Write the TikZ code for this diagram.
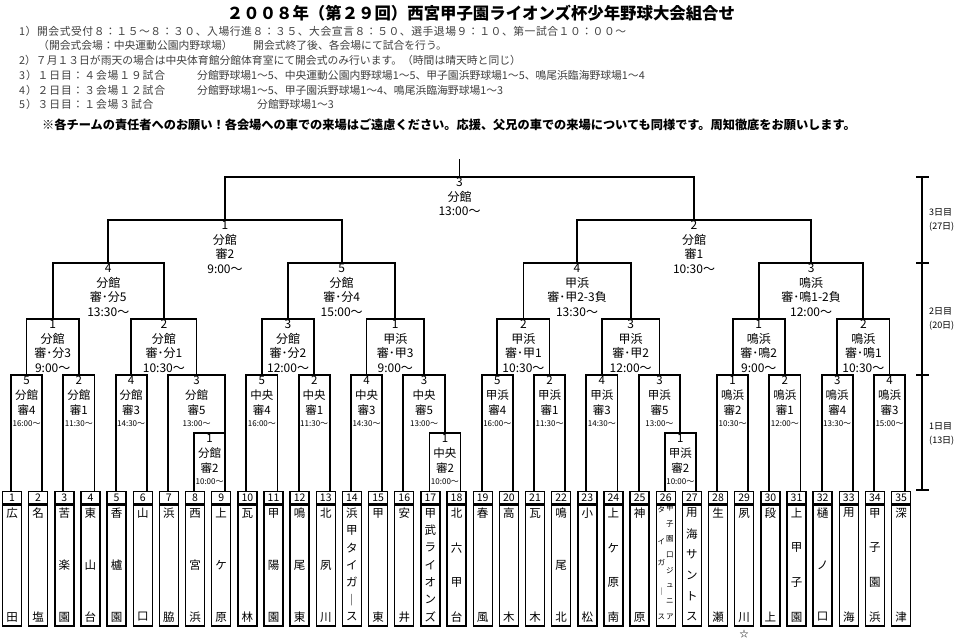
\documentclass[tikz,border=0pt]{standalone}
\usepackage{fontspec}
\setmainfont{Noto Sans CJK JP}
\usetikzlibrary{calc}
\newcommand{\tm}[1]{{\fontsize{8}{8}\selectfont #1}}
% style, name, left leg, right leg, level, label
\newcommand{\game}[6]{%
  \coordinate (gm) at ($(#3)!.5!(#4)$);
  \coordinate (lv) at (0,#5);
  \coordinate (#2) at (gm |- lv);
  \draw[br] (#3) |- (#2) -| (#4);
  \node[#1] (#2-l) at (#2) {#6};
}

\begin{document}
\begin{tikzpicture}[
  x=1pt, y=-1pt,
  br/.style={line width=1.8pt},
  lbl/.style={anchor=north, align=center, inner sep=0pt, yshift=-1pt,
              font=\fontsize{12}{14.5}\selectfont},
  lbla/.style={lbl, font=\fontsize{11.5}{15}\selectfont},
  numbox/.style={draw, line width=1.4pt, anchor=north, minimum width=19pt,
                 minimum height=12pt, inner sep=0pt, font=\fontsize{10.5}{12}\selectfont},
  namebox/.style={draw, line width=1.4pt, anchor=north, minimum width=19pt,
                  minimum height=121pt, inner sep=0pt},
  ch/.style={inner sep=0pt, font=\fontsize{11.5}{12}\selectfont},
  chs/.style={inner sep=0pt, font=\fontsize{7.5}{8}\selectfont},
  note/.style={anchor=west, inner sep=0pt, text=black!75, font=\fontsize{10.8}{12}\selectfont},
  day/.style={anchor=west, align=left, inner sep=0pt, font=\fontsize{9}{14}\selectfont},
  tl/.style={line width=1.5pt}
]
\fill[white] (0,0) rectangle (960,639);
\useasboundingbox (0,0) rectangle (960,639);

% ---------- heading and notes ----------
\node[font=\bfseries\fontsize{16.4}{18}\selectfont] (title) at (481,13)
  {２００８年（第２９回）西宮甲子園ライオンズ杯少年野球大会組合せ};
\node[note] (nt1) at (19,31) {\addfontfeature{LetterSpace=5}1）開会式受付８：１５～８：３０、入場行進８：３５、大会宣言８：５０、選手退場９：１０、第一試合１０：００～};
\node[note] (nt2a) at (38,45) {（開会式会場：中央運動公園内野球場）};
\node[note] (nt2b) at (253,45) {開会式終了後、各会場にて試合を行う。};
\node[note] (nt3) at (19,60) {2）７月１３日が雨天の場合は中央体育館分館体育室にて開会式のみ行います。（時間は晴天時と同じ）};
\node[note] (nt4a) at (19,75) {\addfontfeature{LetterSpace=8}3）１日目：４会場１９試合};
\node[note] (nt4b) at (197,75) {分館野球場1～5、中央運動公園内野球場1～5、甲子園浜野球場1～5、鳴尾浜臨海野球場1～4};
\node[note] (nt5a) at (19,90) {\addfontfeature{LetterSpace=8}4）２日目：３会場１２試合};
\node[note] (nt5b) at (197,90) {分館野球場1～5、甲子園浜野球場1～4、鳴尾浜臨海野球場1～3};
\node[note] (nt6a) at (19,104) {\addfontfeature{LetterSpace=8}5）３日目：１会場３試合};
\node[note] (nt6b) at (257,104) {分館野球場1～3};
\node[anchor=west, inner sep=0pt, font=\bfseries\fontsize{12.2}{14}\selectfont] (warn) at (42,125)
  {※各チームの責任者へのお願い！各会場への車での来場はご遠慮ください。応援、父兄の車での来場についても同様です。周知徹底をお願いします。};

% ---------- teams ----------
\foreach \i in {1,...,35}{
  \coordinate (t\i) at ({12+(\i-1)*26.15},491);
  \coordinate (tl\i) at ($(t\i)+(-1,0)$);
  \coordinate (tr\i) at ($(t\i)+(4,0)$);
  \node[numbox] (n\i) at (t\i) {\i};
  \node[namebox] (m\i) at (n\i.south) {};
}
\foreach \i/\nm in {1/{広,田}, 2/{名,塩}, 3/{苦,楽,園}, 4/{東,山,台}, 5/{香,櫨,園},
    6/{山,口}, 7/{浜,脇}, 8/{西,宮,浜}, 9/{上,ケ,原}, 10/{瓦,林}, 11/{甲,陽,園},
    12/{鳴,尾,東}, 13/{北,夙,川}, 14/{浜,甲,タ,イ,ガ,｜,ス}, 15/{甲,東}, 16/{安,井},
    17/{甲,武,ラ,イ,オ,ン,ズ}, 18/{北,六,甲,台}, 19/{春,風}, 20/{高,木}, 21/{瓦,木},
    22/{鳴,尾,北}, 23/{小,松}, 24/{上,ケ,原,南}, 25/{神,原}, 27/{用,海,サ,ン,ト,ス},
    28/{生,瀬}, 29/{夙,川}, 30/{段,上}, 31/{上,甲,子,園}, 32/{樋,ノ,口}, 33/{用,海},
    34/{甲,子,園,浜}, 35/{深,津}}{
  \foreach \c [count=\k] in \nm {\xdef\nc{\k}}
  \foreach \c [count=\k] in \nm
    {\node[ch] (c\i-\k) at ($(t\i)+(0,{22+(\k-1)*104/(\nc-1)})$) {\c};}
}
% team 26 in two columns
\foreach \c [count=\k] in {甲,子,園,口,ジ,ュ,ニ,ア}
  {\node[chs] (c26r-\k) at ($(t26)+(4,{17+(\k-1)*15.57})$) {\c};}
\foreach \c/\yy [count=\k] in {タ/19, イ/51, ガ/72, ｜/101, ス/126}
  {\node[chs] (c26l-\k) at ($(t26)+(-4.5,\yy)$) {\c};}
\node[ch, font=\fontsize{9}{10}\selectfont] (star) at ($(m29.south)+(0,7)$) {☆};

% ---------- day 1 ----------
\game{lbla}{w89}{tl8}{tr9}{433}{1\\分館\\審2\\[-3pt]\tm{10:00～}}
\game{lbla}{w1718}{tl17}{tr18}{433}{1\\中央\\審2\\[-3pt]\tm{10:00～}}
\game{lbla}{w2627}{tl26}{tr27}{433}{1\\甲浜\\審2\\[-3pt]\tm{10:00～}}
\coordinate (w89r) at (tr9 |- w89);

\game{lbla}{w12}{tl1}{tr2}{375}{5\\分館\\審4\\[-3pt]\tm{16:00～}}
\game{lbla}{w34}{tl3}{tr4}{375}{2\\分館\\審1\\[-3pt]\tm{11:30～}}
\game{lbla}{w56}{tl5}{tr6}{375}{4\\分館\\審3\\[-3pt]\tm{14:30～}}
\game{lbla}{w7}{tl7}{w89r}{375}{3\\分館\\審5\\[-3pt]\tm{13:00～}}
\game{lbla}{w1011}{tl10}{tr11}{375}{5\\中央\\審4\\[-3pt]\tm{16:00～}}
\game{lbla}{w1213}{tl12}{tr13}{375}{2\\中央\\審1\\[-3pt]\tm{11:30～}}
\game{lbla}{w1415}{tl14}{tr15}{375}{4\\中央\\審3\\[-3pt]\tm{14:30～}}
\game{lbla}{w16}{tl16}{w1718}{375}{3\\中央\\審5\\[-3pt]\tm{13:00～}}
\game{lbla}{w1920}{tl19}{tr20}{375}{5\\甲浜\\審4\\[-3pt]\tm{16:00～}}
\game{lbla}{w2122}{tl21}{tr22}{375}{2\\甲浜\\審1\\[-3pt]\tm{11:30～}}
\game{lbla}{w2324}{tl23}{tr24}{375}{4\\甲浜\\審3\\[-3pt]\tm{14:30～}}
\game{lbla}{w25}{tl25}{w2627}{375}{3\\甲浜\\審5\\[-3pt]\tm{13:00～}}
\game{lbla}{w2829}{tl28}{tr29}{375}{1\\鳴浜\\審2\\[-3pt]\tm{10:30～}}
\game{lbla}{w3031}{tl30}{tr31}{375}{2\\鳴浜\\審1\\[-3pt]\tm{12:00～}}
\game{lbla}{w3233}{tl32}{tr33}{375}{3\\鳴浜\\審4\\[-3pt]\tm{13:30～}}
\game{lbla}{w3435}{tl34}{tr35}{375}{4\\鳴浜\\審3\\[-3pt]\tm{15:00～}}

% ---------- day 2 ----------
\game{lbl}{q1}{w12}{w34}{319}{1\\分館\\審･分3\\9:00～}
\game{lbl}{q2}{w56}{w7}{319}{2\\分館\\審･分1\\10:30～}
\game{lbl}{q3}{w1011}{w1213}{319}{3\\分館\\審･分2\\12:00～}
\game{lbl}{q4}{w1415}{w16}{319}{1\\甲浜\\審･甲3\\9:00～}
\game{lbl}{q5}{w1920}{w2122}{319}{2\\甲浜\\審･甲1\\10:30～}
\game{lbl}{q6}{w2324}{w25}{319}{3\\甲浜\\審･甲2\\12:00～}
\game{lbl}{q7}{w2829}{w3031}{319}{1\\鳴浜\\審･鳴2\\9:00～}
\game{lbl}{q8}{w3233}{w3435}{319}{2\\鳴浜\\審･鳴1\\10:30～}

\game{lbl}{s1}{q1}{q2}{263}{4\\分館\\審･分5\\13:30～}
\game{lbl}{s2}{q3}{q4}{263}{5\\分館\\審･分4\\15:00～}
\game{lbl}{s3}{q5}{q6}{263}{4\\甲浜\\審･甲2-3負\\13:30～}
\game{lbl}{s4}{q7}{q8}{263}{3\\鳴浜\\審･鳴1-2負\\12:00～}

% ---------- day 3 ----------
\game{lbl}{f1}{s1}{s2}{220}{1\\分館\\審2\\9:00～}
\game{lbl}{f2}{s3}{s4}{220}{2\\分館\\審1\\10:30～}
\game{lbl}{fin}{f1}{f2}{177}{3\\分館\\13:00～}
\coordinate (topy) at (0,159);
\coordinate (top) at (fin |- topy);
\draw[br] (fin) -- (top);

% ---------- day scale ----------
\coordinate (tl0) at (922,177);
\coordinate (tl3) at (922,490);
\draw[tl] (tl0) -- (tl3);
\foreach \y in {177,263,375,490} {\draw[tl] (916,\y) -- (929,\y);}
\node[day] (day3) at (929,220) {3日目\\(27日)};
\node[day] (day2) at (929,319) {2日目\\(20日)};
\node[day] (day1) at (929,434) {1日目\\(13日)};

\end{tikzpicture}
\end{document}
